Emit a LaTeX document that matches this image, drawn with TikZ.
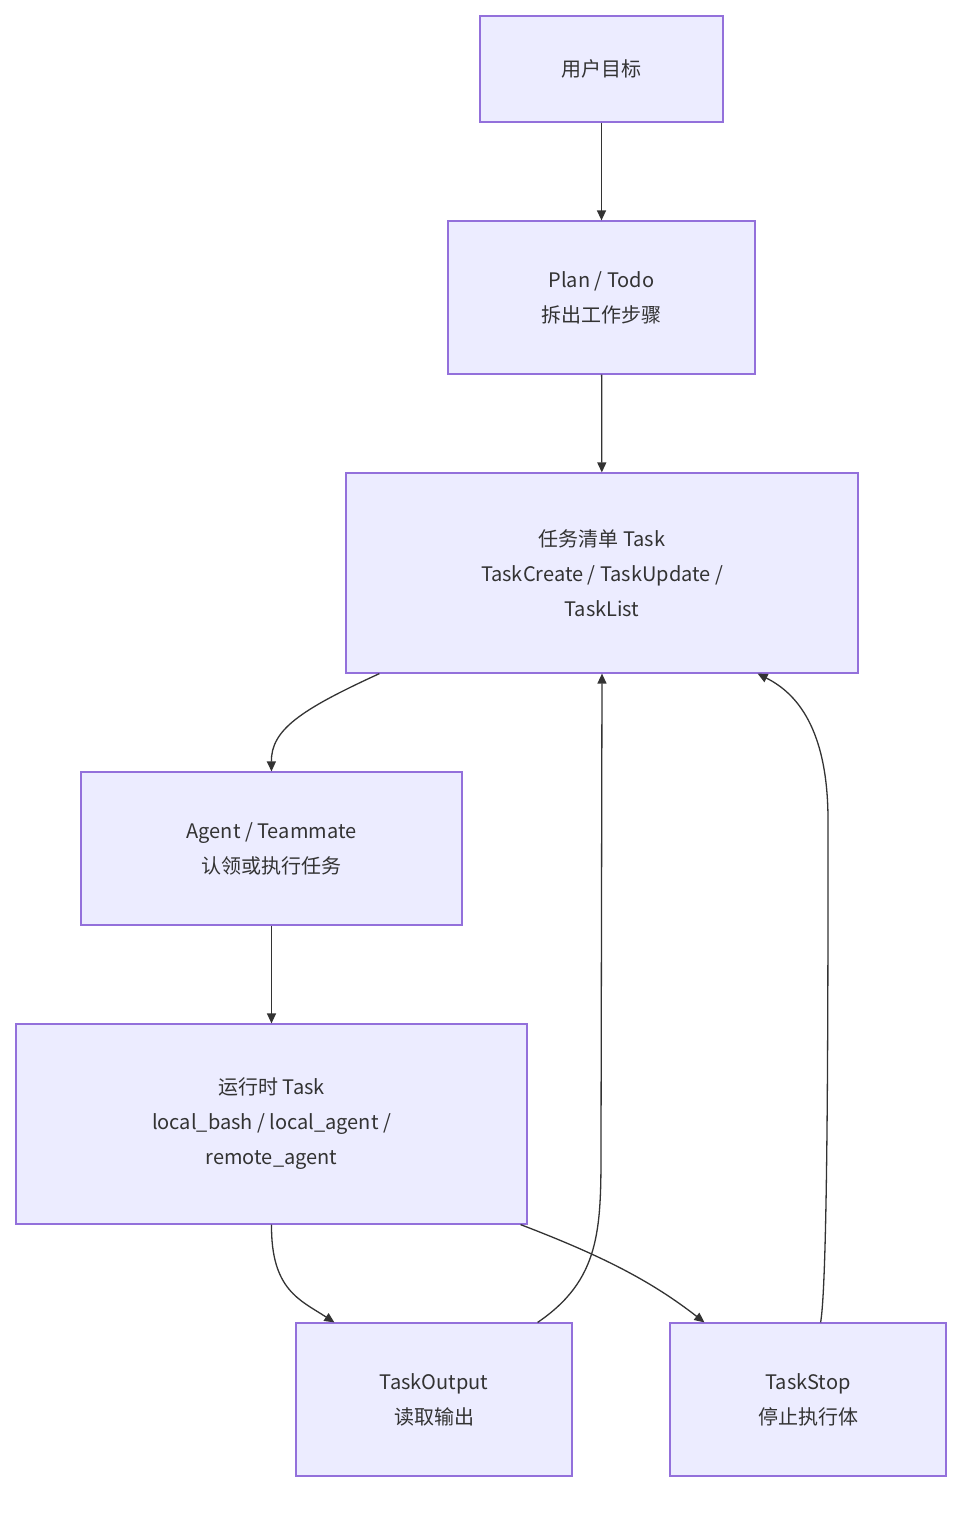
\documentclass[tikz,border=0pt]{standalone}
\usepackage{fontspec}
\setmainfont{Noto Sans CJK SC}
\usetikzlibrary{arrows.meta}
\definecolor{nf}{HTML}{ECECFF}
\definecolor{nd}{HTML}{9370DB}
\definecolor{ar}{HTML}{333333}
\begin{document}
\begin{tikzpicture}[x=1pt,y=-1pt,
 box/.style={draw=nd,fill=nf,line width=1.2pt,align=center,font=\fontsize{20}{35}\selectfont,text=ar,inner sep=0pt},
 e/.style={draw=ar,line width=1.3pt,-{Triangle[length=10pt,width=9pt]}}]
\useasboundingbox (0,0) rectangle (978,1516);
\node[box,minimum width=243pt,minimum height=106pt] (n1) at (601.5,69) {用户目标};
\node[box,minimum width=307pt,minimum height=153pt] (n2) at (601.5,297.5) {Plan / Todo\\拆出工作步骤};
\node[box,minimum width=512pt,minimum height=200pt] (n3) at (602,573) {任务清单 Task\\TaskCreate / TaskUpdate /\\TaskList};
\node[box,minimum width=381pt,minimum height=153pt] (n4) at (271.5,848.5) {Agent / Teammate\\认领或执行任务};
\node[box,minimum width=511pt,minimum height=200pt] (n5) at (271.5,1124) {运行时 Task\\local\_bash / local\_agent /\\remote\_agent};
\node[box,minimum width=276pt,minimum height=153pt] (n6) at (434,1399.5) {TaskOutput\\读取输出};
\node[box,minimum width=276pt,minimum height=153pt] (n7) at (808,1399.5) {TaskStop\\停止执行体};
\draw[e] (n1) -- (n2);
\draw[e] (n2) -- (n3);
\draw[e] (n3.south west)++(34,0) .. controls (300,710) and (271,730) .. (n4.north);
\draw[e] (n4) -- (n5);
\draw[e] (n5.south) .. controls (271,1290) and (300,1300) .. ([xshift=39pt]n6.north west);
\draw[e] ([xshift=-7pt]n5.south east) .. controls (600,1255) and (650,1280) .. ([xshift=35pt]n7.north west);
\draw[e] ([xshift=-35pt]n6.north east) .. controls (600,1280) and (601,1230) .. (601,1150) -- (n3.south);
\draw[e] ([xshift=-126pt]n7.north east) .. controls (828,1280) and (828,1000) .. (828,820) .. controls (828,720) and (790,690) .. ([xshift=-101pt]n3.south east);
\end{tikzpicture}
\end{document}
